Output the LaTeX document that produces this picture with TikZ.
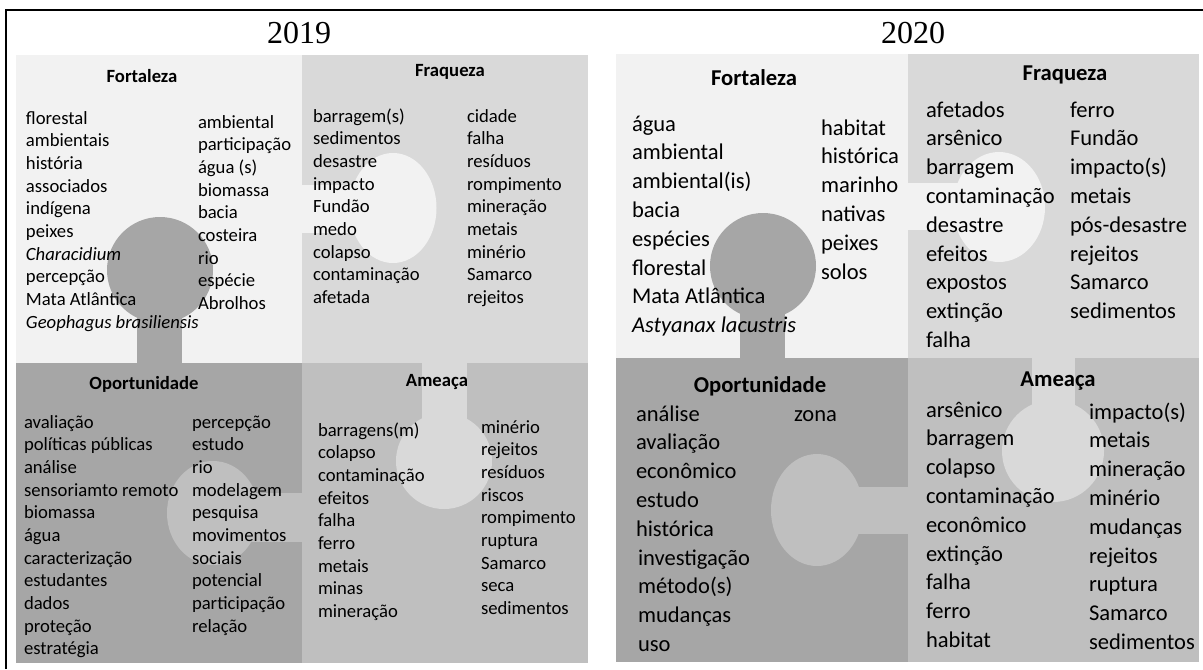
\documentclass[tikz,border=0pt]{standalone}
\usepackage{fontspec}
\setmainfont{Carlito}
\newfontfamily\yearfont{Liberation Serif}
\newcommand\wordlist[1]{\begin{tabular}[t]{@{}l@{}}#1\end{tabular}}
\begin{document}
\begin{tikzpicture}[x=0.75pt,y=-0.75pt,
  every node/.style={inner sep=0pt,outer sep=0pt},
  year/.style={font=\yearfont\fontsize{24}{28}\selectfont,anchor=base},
  headA/.style={font=\bfseries\fontsize{14}{17}\selectfont,anchor=base},
  headB/.style={font=\bfseries\fontsize{17}{20}\selectfont,anchor=base},
  listA/.style={font=\fontsize{14}{17}\selectfont,anchor=base west},
  listB/.style={font=\fontsize{16.9}{21.6}\selectfont,anchor=base west},
  fort/.style={fill={rgb,255:red,242;green,242;blue,242}},
  fraq/.style={fill={rgb,255:red,217;green,217;blue,217}},
  opp/.style={fill={rgb,255:red,166;green,166;blue,166}},
  thr/.style={fill={rgb,255:red,191;green,191;blue,191}},
  frame/.style={draw=black,line width=1.5pt}]
\useasboundingbox (0,0) rectangle (1203,669);
\fill[white] (0,0) rectangle (1203,669);

% outer frame (top and left edges)
\draw[frame] (6,669) -- (6,10) -- (1203,10);

% ---------- 2019 puzzle ----------
\path[fort] (16,55) rectangle (302,363);
\path[fraq] (302,55) rectangle (588,363);
\path[opp] (16,363) rectangle (302,663);
\path[thr] (302,363) rectangle (588,663);
% interlocking tabs
\path[opp] (160,270) circle[radius=53];
\path[opp] (137,270) rectangle (182,363);
\path[fort] (393,208) ellipse[x radius=43.5,y radius=55];
\path[fort] (302,185) rectangle (393,233);
\path[thr] (213,513) ellipse[x radius=46,y radius=52];
\path[thr] (213,493) rectangle (302,542);
\path[fraq] (444,461) circle[radius=48];
\path[fraq] (422,363) rectangle (467,461);

\node[year] (y19) at (299,43) {2019};
\node[headA] (f19) at (142,82) {Fortaleza};
\node[headA] (w19) at (450,76) {Fraqueza};
\node[headA] (o19) at (144,389) {Oportunidade};
\node[headA] (a19) at (437,386) {Ameaça};

\node[listA] (f19a) at (26,124) {\wordlist{florestal\\ambientais\\história\\associados\\indígena\\peixes\\\textit{Characidium}\\percepção\\Mata Atlântica\\\textit{Geophagus brasiliensis}}};
\node[listA] (f19b) at (198,128) {\wordlist{ambiental\\participação\\água (s)\\biomassa\\bacia\\costeira\\rio\\espécie\\Abrolhos}};
\node[listA] (w19a) at (313,122) {\wordlist{barragem(s)\\sedimentos\\desastre\\impacto\\Fundão\\medo\\colapso\\contaminação\\afetada}};
\node[listA] (w19b) at (467,122) {\wordlist{cidade\\falha\\resíduos\\rompimento\\mineração\\metais\\minério\\Samarco\\rejeitos}};
\node[listA] (o19a) at (24,428) {\wordlist{avaliação\\políticas públicas\\análise\\sensoriamto remoto\\biomassa\\água\\caracterização\\estudantes\\dados\\proteção\\estratégia}};
\node[listA] (o19b) at (192,428) {\wordlist{percepção\\estudo\\rio\\modelagem\\pesquisa\\movimentos\\sociais\\potencial\\participação\\relação}};
\node[listA] (a19a) at (318,436) {\wordlist{barragens(m)\\colapso\\contaminação\\efeitos\\falha\\ferro\\metais\\minas\\mineração}};
\node[listA] (a19b) at (481,433) {\wordlist{minério\\rejeitos\\resíduos\\riscos\\rompimento\\ruptura\\Samarco\\seca\\sedimentos}};

% ---------- 2020 puzzle ----------
\path[fort] (616,54) rectangle (908,358);
\path[fraq] (908,54) rectangle (1199,358);
\path[opp] (616,358) rectangle (908,662);
\path[thr] (908,358) rectangle (1199,662);
% interlocking tabs
\path[opp] (763,266) circle[radius=53];
\path[opp] (740,266) rectangle (785,358);
\path[fort] (999,207) ellipse[x radius=46,y radius=55];
\path[fort] (908,183) rectangle (999,230);
\path[thr] (817,510) ellipse[x radius=46,y radius=56];
\path[thr] (817,487) rectangle (908,534);
\path[fraq] (1053,451) circle[radius=51];
\path[fraq] (1032,358) rectangle (1075,451);

\node[year] (y20) at (913,43) {2020};
\node[headB] (f20) at (754,85) {Fortaleza};
\node[headB] (w20) at (1065,80) {Fraqueza};
\node[headB] (o20) at (760,392) {Oportunidade};
\node[headB] (a20) at (1058,386) {Ameaça};

\node[listB] (f20a) at (632,131) {\wordlist{água\\ambiental\\ambiental(is)\\bacia\\espécies\\florestal\\Mata Atlântica\\\textit{Astyanax lacustris}}};
\node[listB] (f20b) at (821,135) {\wordlist{habitat\\histórica\\marinho\\nativas\\peixes\\solos}};
\node[listB] (w20a) at (926,117) {\wordlist{afetados\\arsênico\\barragem\\contaminação\\desastre\\efeitos\\expostos\\extinção\\falha}};
\node[listB] (w20b) at (1070,117) {\wordlist{ferro\\Fundão\\impacto(s)\\metais\\pós-desastre\\rejeitos\\Samarco\\sedimentos}};
\node[listB] (o20a) at (636,421) {\wordlist{análise\\avaliação\\econômico\\estudo\\histórica\\\hspace*{1.5pt}investigação\\\hspace*{1.5pt}método(s)\\\hspace*{1.5pt}mudanças\\\hspace*{1.5pt}uso}};
\node[listB] (o20b) at (794,421) {zona};
\node[listB] (a20a) at (926,417) {\wordlist{arsênico\\barragem\\colapso\\contaminação\\econômico\\extinção\\falha\\ferro\\habitat}};
\node[listB] (a20b) at (1089,419) {\wordlist{impacto(s)\\metais\\mineração\\minério\\mudanças\\rejeitos\\ruptura\\Samarco\\sedimentos}};
\end{tikzpicture}
\end{document}
